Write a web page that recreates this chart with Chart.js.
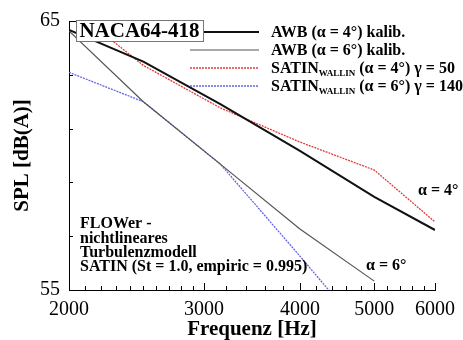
<!DOCTYPE html>
<html>
<head>
<meta charset="utf-8">
<script src="https://cdn.jsdelivr.net/npm/chart.js@4.4.1/dist/chart.umd.min.js"></script>
<style>
  html, body { margin: 0; padding: 0; background: #fff; }
  #wrap { width: 463px; height: 340px; }
</style>
</head>
<body>
<div id="wrap"><canvas id="splChart" width="463" height="340"></canvas></div>
<script>
// Terzband-Frequenzen [Hz]
const frequenz = [2000, 2500, 3150, 4000, 5000, 6000];
// SPL [dB(A)] je Kurve
const awb4   = [64.67, 63.49, 61.91, 60.17, 58.46, 57.23];
const awb6   = [64.63, 62.00, 59.68, 57.27, 55.33, null];
const satin4 = [65.55, 63.35, 61.77, 60.50, 59.46, 57.53];
const satin6 = [63.09, 62.00, 59.68, 56.26, 53.00, null];

// Achsenteilung
const xMajor = [2000, 3000, 4000, 5000, 6000];
const xMinor = [2100, 2200, 2300, 2400, 2500, 2600, 2700, 2800, 2900,
                3200, 3400, 3600, 3800, 4200, 4400, 4600, 4800,
                5200, 5400, 5600, 5800];
const yMajor = [55, 60, 65];

const serif = '"Liberation Serif", "Times New Roman", serif';

const toPoints = arr => frequenz.map((f, i) => ({ x: f, y: arr[i] })).filter(p => p.y !== null);

// Ticks nach innen zeichnen
const innenTicks = {
    id: 'innenTicks',
    afterDraw(chart) {
        const { ctx, chartArea: a, scales: { x, y } } = chart;
        ctx.save();
        ctx.strokeStyle = '#000';
        ctx.lineWidth = 1;
        ctx.beginPath();
        x.ticks.forEach(t => {
            const px = Math.round(x.getPixelForValue(t.value)) + 0.5;
            const len = xMajor.includes(t.value) ? 7 : 4;
            ctx.moveTo(px, a.bottom);
            ctx.lineTo(px, a.bottom - len);
        });
        y.ticks.forEach(t => {
            const py = Math.round(y.getPixelForValue(t.value)) + 0.5;
            const len = yMajor.includes(t.value) ? 7 : 4;
            ctx.moveTo(a.left, py);
            ctx.lineTo(a.left + len, py);
        });
        ctx.stroke();
        ctx.restore();
    }
};

// Legende, Titelbox und Beschriftungen
const beschriftung = {
    id: 'beschriftung',
    afterDatasetsDraw(chart) {
        const ctx = chart.ctx;
        const ds = chart.data.datasets;
        ctx.save();

        // NACA Box
        ctx.fillStyle = '#fff';
        ctx.fillRect(76, 20, 127, 21);
        ctx.strokeStyle = '#777';
        ctx.lineWidth = 1;
        ctx.strokeRect(76.5, 20.5, 127, 21);
        ctx.fillStyle = '#000';
        ctx.font = 'bold 21px ' + serif;
        ctx.textAlign = 'center';
        ctx.textBaseline = 'middle';
        ctx.fillText('NACA64-418', 139.5, 32);

        // Legende
        const rows = [
            { y: 32, x0: 204, label: ['AWB (α = 4°) kalib.'] },
            { y: 50, x0: 190, label: ['AWB (α = 6°) kalib.'] },
            { y: 68, x0: 190, label: ['SATIN', 'WALLIN', ' (α = 4°) γ = 50'] },
            { y: 86, x0: 190, label: ['SATIN', 'WALLIN', ' (α = 6°) γ = 140'] }
        ];
        rows.forEach((r, i) => {
            const d = ds[i];
            ctx.strokeStyle = d.borderColor;
            ctx.lineWidth = d.borderWidth;
            ctx.setLineDash(d.borderDash || []);
            ctx.beginPath();
            ctx.moveTo(r.x0, r.y);
            ctx.lineTo(259, r.y);
            ctx.stroke();
            ctx.setLineDash([]);

            ctx.fillStyle = '#000';
            ctx.textAlign = 'left';
            ctx.textBaseline = 'alphabetic';
            let x = 271;
            const base = r.y + 5;
            ctx.font = 'bold 16px ' + serif;
            ctx.fillText(r.label[0], x, base);
            x += ctx.measureText(r.label[0]).width;
            if (r.label.length > 1) {
                ctx.font = 'bold 9px ' + serif;
                ctx.fillText(r.label[1], x, base + 3);
                x += ctx.measureText(r.label[1]).width;
                ctx.font = 'bold 16px ' + serif;
                ctx.fillText(r.label[2], x, base);
            }
        });

        // Modellbeschreibung
        ctx.font = 'bold 16px ' + serif;
        ctx.textAlign = 'left';
        ctx.textBaseline = 'alphabetic';
        ctx.fillText('FLOWer -', 80, 228);
        ctx.fillText('nichtlineares', 80, 242.5);
        ctx.fillText('Turbulenzmodell', 80, 257);
        ctx.fillText('SATIN (St = 1.0, empiric = 0.995)', 80, 270.5);

        // Anstellwinkel
        ctx.fillText('α = 4°', 418, 195);
        ctx.fillText('α = 6°', 366, 270);

        ctx.restore();
    }
};

const canvas = document.getElementById('splChart');
const ctx = canvas.getContext('2d');
window.splChart = new Chart(ctx, {
    type: 'line',
    data: {
        datasets: [{
            label: 'AWB (α = 4°) kalib.',
            data: toPoints(awb4),
            borderColor: '#111',
            borderWidth: 2,
            pointRadius: 0,
            tension: 0
        }, {
            label: 'AWB (α = 6°) kalib.',
            data: toPoints(awb6),
            borderColor: '#555',
            borderWidth: 1.2,
            pointRadius: 0,
            tension: 0
        }, {
            label: 'SATIN WALLIN (α = 4°) γ = 50',
            data: toPoints(satin4),
            borderColor: '#e03c3c',
            borderWidth: 1.3,
            borderDash: [2, 1],
            pointRadius: 0,
            tension: 0
        }, {
            label: 'SATIN WALLIN (α = 6°) γ = 140',
            data: toPoints(satin6),
            borderColor: '#6464e6',
            borderWidth: 1.3,
            borderDash: [2, 1],
            pointRadius: 0,
            tension: 0
        }]
    },
    options: {
        responsive: false,
        animation: false,
        devicePixelRatio: 1,
        layout: { padding: { top: 21, right: 25, bottom: 0, left: 0 } },
        plugins: {
            legend: { display: false },
            tooltip: { enabled: false }
        },
        scales: {
            x: {
                type: 'logarithmic',
                min: 2000,
                max: 6000,
                afterBuildTicks: s => {
                    s.ticks = xMajor.concat(xMinor).sort((a, b) => a - b).map(v => ({ value: v }));
                },
                afterFit: s => { s.height = 50; },
                grid: { drawOnChartArea: false, drawTicks: false },
                border: { color: '#000', width: 1 },
                ticks: {
                    autoSkip: false,
                    maxRotation: 0,
                    padding: 8,
                    color: '#000',
                    font: { family: serif, size: 20 },
                    callback: v => xMajor.includes(v) ? String(v) : ''
                },
                title: {
                    display: true,
                    text: 'Frequenz [Hz]',
                    color: '#000',
                    font: { family: serif, size: 21, weight: 'bold', lineHeight: 1 },
                    padding: { top: 0, bottom: 0 }
                }
            },
            y: {
                min: 55,
                max: 65,
                afterFit: s => { s.width = 69; },
                grid: { drawOnChartArea: false, drawTicks: false },
                border: { color: '#000', width: 1 },
                ticks: {
                    stepSize: 1,
                    padding: 9,
                    color: '#000',
                    font: { family: serif, size: 20 },
                    callback: v => yMajor.includes(v) ? String(v) : ''
                },
                title: {
                    display: true,
                    text: 'SPL [dB(A)]',
                    color: '#000',
                    font: { family: serif, size: 21, weight: 'bold', lineHeight: 1 },
                    padding: { top: 12, bottom: 0 }
                }
            }
        }
    },
    plugins: [innenTicks, beschriftung]
});
</script>
</body>
</html>
